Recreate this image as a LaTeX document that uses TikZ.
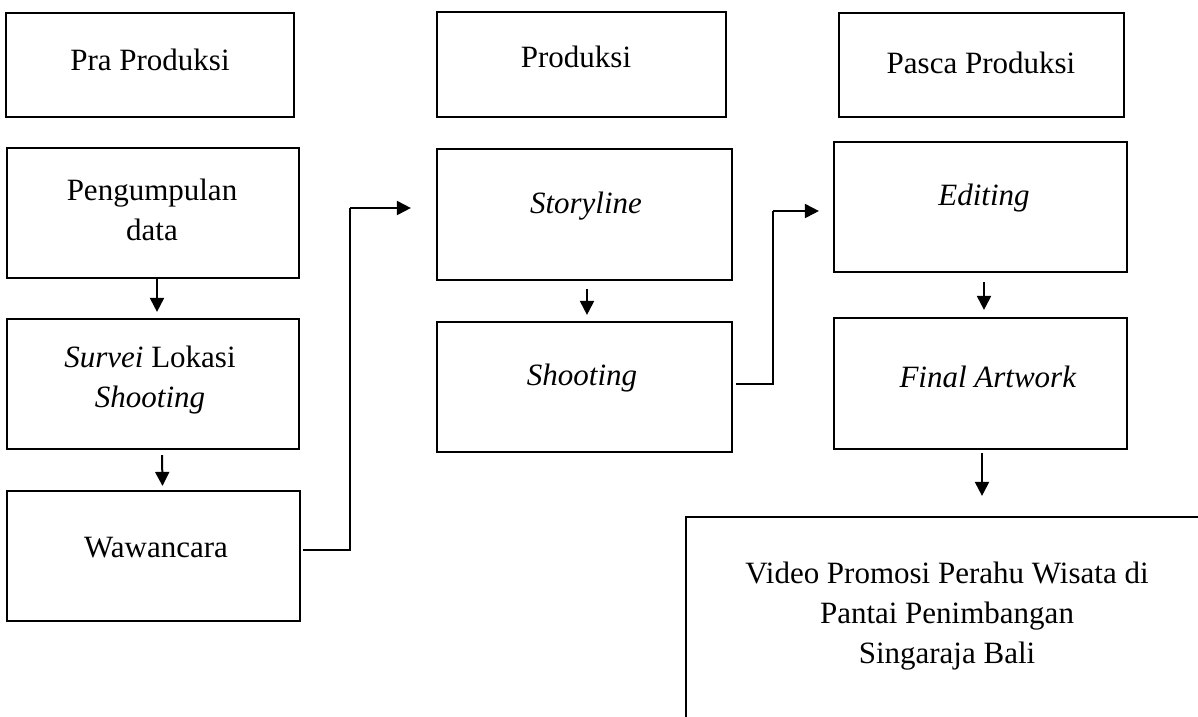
\documentclass[tikz,border=0pt]{standalone}
\usepackage{fontspec}
\setmainfont{Liberation Serif}
\usetikzlibrary{arrows.meta}
\begin{document}
\begin{tikzpicture}[x=1pt,y=-1pt,
  box/.style={draw, line width=2.2pt, rectangle, inner sep=0pt},
  lbl/.style={font=\fontsize{31}{40}\selectfont, inner sep=0pt, align=center, anchor=base},
  arr/.style={line width=2pt, -{Triangle[length=14pt,width=14pt]}},
  elbow/.style={line width=1.2pt}]
\clip (0,0) rectangle (1198,716);
\fill[white] (0,0) rectangle (1198,716);
% boxes
\node[box, minimum width=288pt, minimum height=104pt] (pra) at (150,65) {};
\node[box, minimum width=292pt, minimum height=130pt] (peng) at (153,213) {};
\node[box, minimum width=292pt, minimum height=130pt] (surv) at (153,384) {};
\node[box, minimum width=293pt, minimum height=130pt] (waw) at (153.5,556) {};
\node[box, minimum width=289pt, minimum height=105pt] (prod) at (581.5,64.5) {};
\node[box, minimum width=295pt, minimum height=131pt] (story) at (584.5,214.5) {};
\node[box, minimum width=295pt, minimum height=130pt] (shoot) at (584.5,387) {};
\node[box, minimum width=285pt, minimum height=104pt] (pasca) at (981.5,65) {};
\node[box, minimum width=293pt, minimum height=130pt] (edit) at (980.5,207) {};
\node[box, minimum width=293pt, minimum height=131pt] (final) at (980.5,383.5) {};
\node[box, minimum width=534pt, minimum height=223pt] (video) at (953,628.5) {};
% texts (multi-line nodes: base anchor is the last line's baseline)
\node[lbl] (tpra) at (150,70) {Pra Produksi};
\node[lbl] (tpeng) at (152,240) {Pengumpulan\\data};
\node[lbl] (tsurv) at (150,407) {\textit{Survei} Lokasi\\\textit{Shooting}};
\node[lbl] (twaw) at (156,557) {Wawancara};
\node[lbl] (tprod) at (576,67) {Produksi};
\node[lbl] (tstory) at (586,213) {\textit{Storyline}};
\node[lbl] (tshoot) at (582,385) {\textit{Shooting}};
\node[lbl] (tpasca) at (981,73) {Pasca Produksi};
\node[lbl] (tedit) at (984,205) {\textit{Editing}};
\node[lbl] (tfinal) at (988,387) {\textit{Final Artwork}};
\node[lbl] (tvideo) at (947,663) {Video Promosi Perahu Wisata di\\Pantai Penimbangan\\Singaraja Bali};
% vertical arrows
\draw[arr, shorten >=6pt] ([xshift=4pt]peng.south) -- ([xshift=4pt]surv.north);
\draw[arr, shorten <=5pt, shorten >=4pt] ([xshift=9pt]surv.south) -- ([xshift=9pt]waw.north);
\draw[arr, shorten <=8pt, shorten >=6pt] ([xshift=2.5pt]story.south) -- ([xshift=2.5pt]shoot.north);
\draw[arr, shorten <=9pt, shorten >=7pt] ([xshift=3.5pt]edit.south) -- ([xshift=3.5pt]final.north);
\draw[arr, shorten <=3pt, shorten >=20pt] ([xshift=1.5pt]final.south) -- ([xshift=1.5pt]video.north -| final.south);
% elbow connectors
\coordinate (c1) at (350,208);
\draw[elbow] ([xshift=2pt,yshift=6pt]waw.east) -| (c1);
\draw[arr] (c1) -- ([xshift=-25pt]story.west |- c1);
\coordinate (c2) at (773,211);
\draw[elbow] ([xshift=3pt,yshift=3pt]shoot.east) -| (c2);
\draw[arr] (c2) -- ([xshift=-14pt]edit.west |- c2);
\end{tikzpicture}
\end{document}
